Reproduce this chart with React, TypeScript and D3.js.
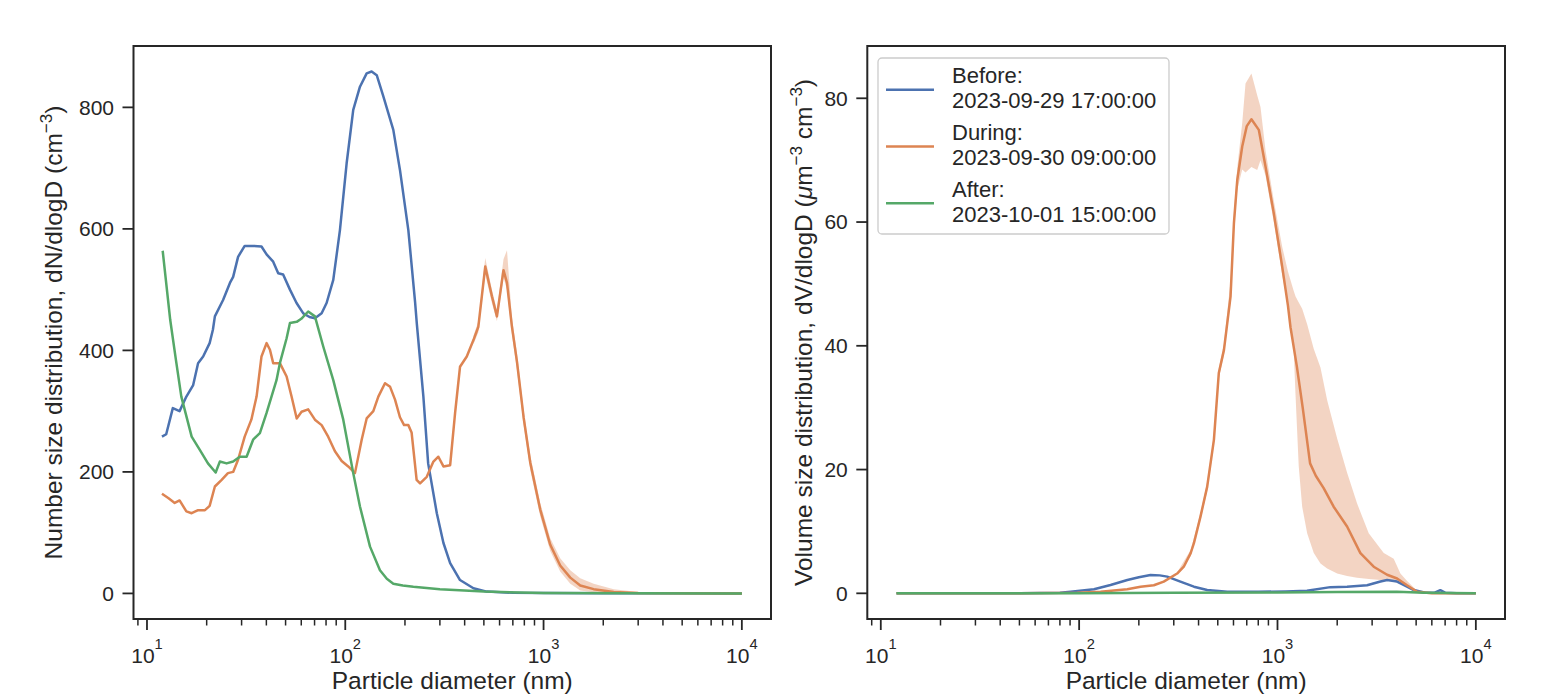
import React from 'react'
import * as d3 from 'd3'

// particle diameter (nm), value pairs
const numBefore: [number, number][] = [
  [11.9, 258], [12.5, 262], [13.5, 305], [14.6, 300], [15.8, 324], [17.1, 343], [18.1, 379],
  [19.2, 390], [20.7, 412], [21.5, 434], [22.0, 456], [24.2, 483], [26.2, 511], [27.2, 521],
  [28.8, 554], [31.1, 572], [34.3, 572], [37.8, 571], [40.1, 558], [43.3, 546], [45.9, 527],
  [48.6, 525], [52.6, 500], [56.8, 478], [61.4, 461], [66, 455], [70.3, 453], [76.0, 461],
  [80.5, 478], [87.0, 516], [94.0, 598], [101.6, 708], [109.7, 796], [118.6, 834], [128.2, 856],
  [135.8, 859], [144.1, 853], [155.6, 818], [174.7, 763], [188.7, 697], [208, 598], [224.9, 480],
  [229.4, 445], [247.7, 324], [261.8, 214], [289.5, 132], [312.7, 83], [338, 50], [379, 22],
  [443, 8.5], [517, 3], [700, 1], [1000, 0.5], [2000, 0.2], [5000, 0.1], [10000, 0]
]

const numDuring: [number, number][] = [
  [11.9, 164], [12.8, 157], [13.8, 149], [14.6, 153], [15.8, 135], [16.8, 132], [18.1, 137],
  [19.6, 137], [20.7, 144], [22.0, 176], [23.8, 187], [25.6, 198], [27.2, 200], [28.8, 220],
  [31.1, 258], [33.6, 286], [35.7, 324], [37.8, 390], [40.1, 412], [41.7, 401], [43.3, 379],
  [46.8, 379], [50.6, 357], [53.6, 324], [56.9, 288], [60.2, 299], [65.0, 303], [70.3, 286],
  [76.0, 277], [82.0, 258], [88.7, 234], [95.9, 218], [103.5, 209], [111.9, 198], [121.0, 253],
  [128.2, 288], [138.5, 300], [146.8, 324], [158.6, 346], [168.3, 340], [178.2, 319], [188.7, 290],
  [198, 277], [208, 277], [216, 265], [229, 187], [238.4, 181], [257.6, 192], [278.3, 217],
  [294.8, 225], [312.7, 209], [338, 211], [358, 297], [379, 373], [410, 390], [443, 417],
  [469, 439], [508, 538], [549, 489], [582, 456], [628, 532], [654, 511], [692, 440], [734, 382],
  [793, 290], [857, 215], [962, 138], [1081, 80], [1213, 46], [1364, 26], [1531, 13], [1789, 7],
  [2259, 2.5], [3000, 0.8], [5000, 0.1], [10000, 0]
]

const numDuringBand: [number, number, number][] = [
  [443, 410, 424], [469, 430, 448], [508, 525, 552], [549, 478, 500], [582, 448, 466],
  [628, 520, 550], [654, 500, 565], [692, 428, 455], [734, 368, 396], [793, 278, 302],
  [857, 203, 227], [962, 127, 149], [1081, 70, 91], [1213, 36, 58], [1364, 16, 38],
  [1531, 5, 25], [1789, 2, 16], [2259, 0.5, 7], [3000, 0.2, 2.5], [4000, 0, 0.5]
]

const numAfter: [number, number][] = [
  [12.0, 564], [13.1, 450], [14.0, 384], [14.9, 324], [16.8, 258], [18.5, 236], [20.3, 214],
  [22.2, 199], [23.3, 217], [25.2, 214], [27.2, 217], [29.4, 225], [31.8, 225], [34.3, 253],
  [37.1, 264], [40.1, 297], [45.0, 351], [46.8, 379], [50.6, 420], [52.6, 445], [56.9, 447],
  [60, 452], [65.0, 464], [70.3, 456], [77.5, 406], [87.0, 351], [97.7, 286], [109.7, 198],
  [118.6, 143], [133.3, 77], [149.6, 38], [162, 24], [174.7, 16], [195, 13], [220.5, 11],
  [300, 7], [500, 3], [1000, 0.8], [3000, 0.2], [10000, 0]
]

const volBefore: [number, number][] = [
  [12, 0], [50, 0], [80, 0.1], [90.6, 0.26], [118.8, 0.65], [144, 1.34], [175, 2.15], [200, 2.6],
  [229, 2.96], [255, 2.9], [278, 2.7], [324, 1.9], [379, 1.07], [442, 0.53], [558, 0.26],
  [800, 0.25], [1100, 0.3], [1408, 0.4], [1848, 1.0], [2243, 1.07], [2830, 1.3], [3305, 1.9],
  [3570, 2.15], [4008, 1.9], [4499, 1.07], [4863, 0.53], [5570, 0.1], [6200, 0.1], [6620, 0.5],
  [7000, 0.1], [8000, 0], [10000, 0]
]

const volDuring: [number, number][] = [
  [12, 0], [50, 0], [97.9, 0.1], [128.2, 0.26], [174.8, 0.65], [204, 1.07], [238, 1.3], [267, 1.9],
  [312, 3.2], [337, 4.3], [365, 6.5], [379, 8.1], [409, 12.4], [442, 17.2], [478, 24.8],
  [506, 35.6], [537, 39.3], [580, 48], [603, 59.8], [627, 66.8], [664, 72.2], [700, 75.5],
  [739, 76.6], [805, 74.9], [871, 68.9], [958, 61.4], [1056, 52.8], [1129, 46.5], [1163, 43],
  [1253, 36.6], [1340, 30], [1460, 21], [1560, 19], [1709, 17], [1919, 14], [2243, 10.8],
  [2618, 6.5], [3055, 4.3], [3570, 3.0], [4008, 2.4], [4499, 1.3], [5055, 0.26], [6000, 0],
  [10000, 0]
]

const volDuringBand: [number, number, number][] = [
  [312, 3.0, 3.4], [365, 6.0, 7.0], [409, 11.8, 13.0], [442, 16.5, 18.0], [478, 24, 25.6],
  [506, 34.8, 36.4], [537, 38.5, 40.3], [580, 47, 50.5], [603, 58.5, 61.5], [627, 65.2, 68.8],
  [664, 68.5, 76.0], [690, 68.0, 82.4], [739, 68.9, 84.0], [790, 68.4, 80.5], [821, 70.0, 78.6],
  [871, 67.5, 71.5], [958, 60.0, 63.5], [1056, 51.5, 56.0], [1129, 46.5, 52.0], [1203, 40.4, 49.0],
  [1232, 32.3, 48.0], [1280, 20.5, 47.0], [1332, 14.0, 46.0], [1411, 9.7, 43.5], [1524, 6.5, 39.5],
  [1647, 4.8, 36.5], [1780, 4.0, 31.2], [1999, 3.2, 25.0], [2244, 2.8, 19.5], [2520, 2.5, 14.5],
  [2884, 2.3, 9.7], [3433, 2.1, 6.5], [3854, 1.9, 5.6], [4166, 1.5, 3.2], [4502, 1.0, 2.0],
  [5055, 0.2, 0.4]
]

const volAfter: [number, number][] = [
  [12, 0], [100, 0], [300, 0.1], [1000, 0.15], [2000, 0.2], [4000, 0.25], [5500, 0.1], [10000, 0]
]

const legendNames = ['Before:', 'During:', 'After:']
const legendTimes = ['2023-09-29 17:00:00', '2023-09-30 09:00:00', '2023-10-01 15:00:00']
const numTicks = [0, 200, 400, 600, 800]
const volTicks = [0, 20, 40, 60, 80]
const decades = [1, 2, 3, 4]

const colors = ['#4c72b0', '#dd8452', '#55a868']
const ink = '#262626'
const font = '"Liberation Sans", Arial, sans-serif'

const top = 46
const bottom = 619

function Panel(props: any) {
  const { x0, x1, yDomain, yTicks, lines, band, label, labelX } = props
  const x = d3.scaleLog().domain([8.551, 14028]).range([x0, x1])
  const y = d3.scaleLinear().domain(yDomain).range([bottom, top])
  const line = d3.line<[number, number]>().x(d => x(d[0])).y(d => y(d[1]))
  const area = d3
    .area<[number, number, number]>()
    .x(d => x(d[0]))
    .y0(d => y(d[1]))
    .y1(d => y(d[2]))

  const minor: number[] = []
  for (let k = 0; k < 4; k++) {
    for (let m = 2; m < 10; m++) {
      const v = m * Math.pow(10, k)
      if (v > 8.551 && v < 14028) minor.push(v)
    }
  }

  return (
    <g>
      <path d={area(band) || ''} fill={colors[1]} fillOpacity={0.35} stroke="none" />
      {lines.map((s: [number, number][], i: number) => (
        <path key={i} d={line(s) || ''} fill="none" stroke={colors[i]} strokeWidth={2.5} strokeLinejoin="round" />
      ))}
      <rect x={x0} y={top} width={x1 - x0} height={bottom - top} fill="none" stroke={ink} strokeWidth={2} />
      {yTicks.map((t: number) => (
        <g key={t}>
          <line x1={x0 - 11} x2={x0} y1={y(t)} y2={y(t)} stroke={ink} strokeWidth={1.8} />
          <text x={x0 - 19.5} y={y(t)} dy="0.35em" textAnchor="end" fontSize={21} fill={ink}>
            {t}
          </text>
        </g>
      ))}
      {minor.map(v => (
        <line key={v} x1={x(v)} x2={x(v)} y1={bottom} y2={bottom + 6.5} stroke={ink} strokeWidth={1.5} />
      ))}
      {decades.map(k => (
        <g key={k}>
          <line x1={x(Math.pow(10, k))} x2={x(Math.pow(10, k))} y1={bottom} y2={bottom + 11} stroke={ink} strokeWidth={1.8} />
          <text x={x(Math.pow(10, k))} y={663.3} textAnchor="middle" fontSize={21} fill={ink}>
            <tspan>10</tspan>
            <tspan dy={-14.8} fontSize={14.7}>{k}</tspan>
          </text>
        </g>
      ))}
      <text x={(x0 + x1) / 2} y={689} textAnchor="middle" fontSize={24.5} fill={ink}>
        Particle diameter (nm)
      </text>
      <text
        transform={`translate(${labelX},${(top + bottom) / 2}) rotate(-90)`}
        textAnchor="middle"
        fontSize={24.5}
        fill={ink}
      >
        {label}
      </text>
    </g>
  )
}

function Legend() {
  return (
    <g>
      <rect x={878} y={58} width={291} height={176} rx={4} fill="white" fillOpacity={0.8} stroke="#cccccc" strokeWidth={1.3} />
      {legendNames.map((n, i) => {
        const base = 83.3 + i * 56.7
        return (
          <g key={n}>
            <line x1={886} x2={934} y1={base + 6.5} y2={base + 6.5} stroke={colors[i]} strokeWidth={2.5} />
            <text x={952} y={base} fontSize={22} fill={ink}>{n}</text>
            <text x={952} y={base + 25} fontSize={22} fill={ink}>{legendTimes[i]}</text>
          </g>
        )
      })}
    </g>
  )
}

export default function App() {
  return (
    <svg
      width={1549}
      height={694}
      fontFamily={font}
      style={{ position: 'absolute', left: 0, top: 0, background: 'white' }}
    >
      <rect width={1549} height={694} fill="white" />
      <Panel
        x0={133.5}
        x1={771}
        yDomain={[-42.1, 901]}
        yTicks={numTicks}
        lines={[numBefore, numDuring, numAfter]}
        band={numDuringBand}
        labelX={62}
        label={
          <>
            <tspan>Number size distribution, dN/dlogD (cm</tspan>
            <tspan dy={-10} fontSize={17}>−3</tspan>
            <tspan dy={10}>)</tspan>
          </>
        }
      />
      <Panel
        x0={867.3}
        x1={1505}
        yDomain={[-4.15, 88.45]}
        yTicks={volTicks}
        lines={[volBefore, volDuring, volAfter]}
        band={volDuringBand}
        labelX={812}
        label={
          <>
            <tspan>Volume size distribution, dV/dlogD (</tspan>
            <tspan fontStyle="italic">μ</tspan>
            <tspan>m</tspan>
            <tspan dy={-10} fontSize={17}>−3</tspan>
            <tspan dy={10}> cm</tspan>
            <tspan dy={-10} fontSize={17}>−3</tspan>
            <tspan dy={10}>)</tspan>
          </>
        }
      />
      <Legend />
    </svg>
  )
}
